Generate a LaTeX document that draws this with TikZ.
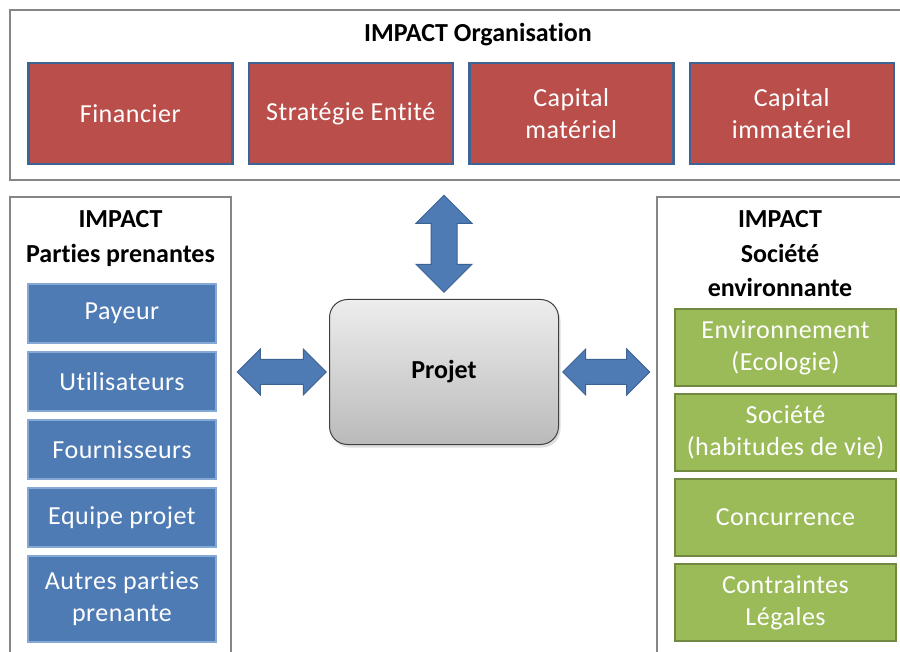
\documentclass[tikz,border=0pt]{standalone}
\usepackage{fontspec}
\setmainfont{Carlito}[Ligatures=NoCommon]
\newfontfamily\boxfont{Carlito}[Ligatures=NoCommon, LetterSpace=2]
\usepackage{tikz}
\usetikzlibrary{positioning, shapes.arrows, shadows}
\definecolor{framegray}{HTML}{868686}
\definecolor{orgared}{HTML}{BA4E4A}
\definecolor{orgaline}{HTML}{3E6396}
\definecolor{partblue}{HTML}{4F7BB5}
\definecolor{partline}{HTML}{86A8D6}
\definecolor{socgreen}{HTML}{9BBB59}
\definecolor{socline}{HTML}{71893F}
\definecolor{arrowline}{HTML}{3A6394}

\begin{document}
\begin{tikzpicture}[
				x=1pt, y=-1pt,
				frame/.style={draw=framegray, line width=1.2pt},
				title/.style={font=\fontsize{26}{34.5}\selectfont\bfseries, align=center},
				boxtext/.style={text=white, align=center, font=\boxfont\fontsize{26}{32}\selectfont, inner sep=0pt},
				redbox/.style={boxtext, fill=orgared, draw=orgaline, line width=2.5pt, minimum width=204pt, minimum height=101pt},
				bluebox/.style={boxtext, fill=partblue, draw=partline, line width=2pt, minimum width=188pt, minimum height=59pt},
				greenbox/.style={boxtext, fill=socgreen, draw=socline, line width=2pt, minimum width=221pt, minimum height=77pt},
				blockarrow/.style={double arrow, fill=partblue, draw=arrowline, line width=1pt, minimum width=45pt, double arrow head extend=10.5pt}]
				
			\useasboundingbox (0,0) rectangle (900,652);
			\clip (0,0) rectangle (900,652);
			
			% frames
			\draw[frame] (10,10) rectangle (905,180);
			\draw[frame] (10,197) rectangle (231,660);
			\draw[frame] (657,197) rectangle (905,660);
			
			\node[title] (orga_title) at (478,35) {IMPACT Organisation};
			\node[title, anchor=north] (parties_title) at (120.5,207) {IMPACT\\Parties prenantes};
			\node[title, anchor=north] (societe_title) at (780,207) {IMPACT\\Société\\environnante};
			
			% organisation
			\node[redbox, anchor=north west] (financier) at (27,62) {Financier};
			\node[redbox, right=14pt of financier] (strategie) {Stratégie Entité};
			\node[redbox, right=14pt of strategie] (materiel) {Capital\\matériel};
			\node[redbox, right=14pt of materiel] (immateriel) {Capital\\immatériel};
			
			% parties prenantes
			\node[bluebox, anchor=north west] (payeur) at (27,283) {Payeur};
			\node[bluebox, below=7pt of payeur] (utilisateurs) {Utilisateurs};
			\node[bluebox, below=7pt of utilisateurs] (fournisseurs) {Fournisseurs};
			\node[bluebox, below=7pt of fournisseurs] (equipe) {Equipe projet};
			\node[bluebox, below=7pt of equipe, minimum height=86pt] (autres) {Autres parties\\prenante};
			
			% societe environnante
			\node[greenbox, anchor=north west] (environnement) at (674,308) {Environnement\\(Ecologie)};
			\node[greenbox, below=6pt of environnement] (societe) {Société\\(habitudes de vie)};
			\node[greenbox, below=6pt of societe] (concurrence) {Concurrence};
			\node[greenbox, below=6pt of concurrence] (contraintes) {Contraintes\\Légales};
			
			% projet
			\node[draw=black!75, line width=1pt, rounded corners=18pt, top color=black!7, bottom color=black!27,
				minimum width=229pt, minimum height=145pt, font=\fontsize{26}{32}\selectfont\bfseries,
				drop shadow={opacity=0.25, shadow xshift=2pt, shadow yshift=-3pt}] (projet) at (444,372) {Projet};
			
			\node[blockarrow, inner xsep=0pt, inner ysep=12pt, minimum height=89pt, left=2pt of projet] (arrow_parties) {};
			\node[blockarrow, inner xsep=0pt, inner ysep=12pt, minimum height=87pt, right=3pt of projet] (arrow_societe) {};
			\node[blockarrow, inner xsep=12.5pt, inner ysep=0pt, minimum width=55pt, double arrow head extend=15pt, minimum height=97pt, shape border rotate=90, above=6pt of projet] (arrow_orga) {};
		\end{tikzpicture}
\end{document}
